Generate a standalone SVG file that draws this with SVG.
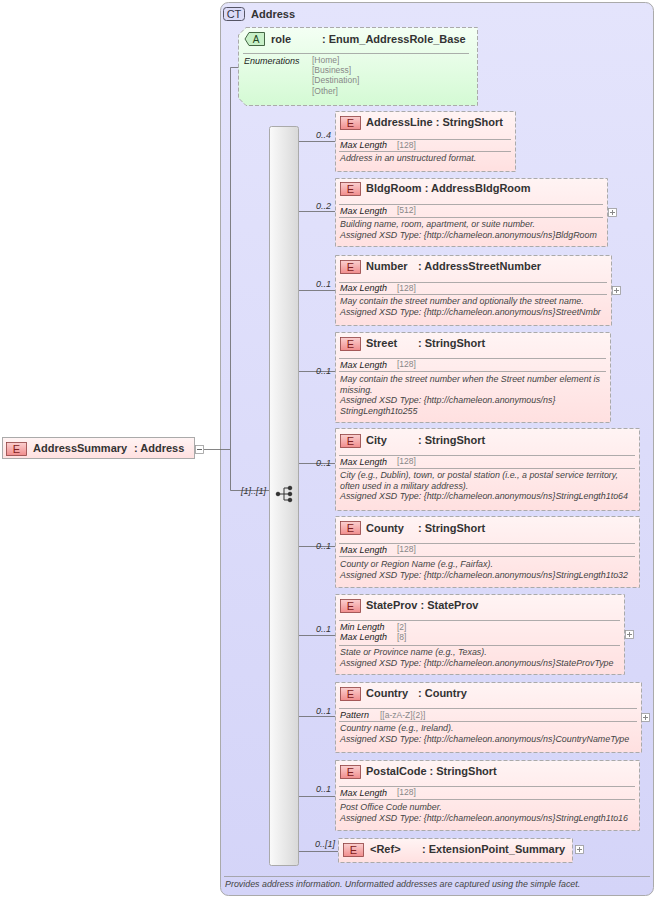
<svg xmlns="http://www.w3.org/2000/svg" width="658" height="899" viewBox="0 0 658 899">
<defs>
<linearGradient id="eg" x1="0" y1="0" x2="0" y2="1"><stop offset="0" stop-color="#fff4f4"/><stop offset="1" stop-color="#ffe0e0"/></linearGradient>
<linearGradient id="eb" x1="0" y1="0" x2="0" y2="1"><stop offset="0" stop-color="#fbd0d0"/><stop offset="1" stop-color="#f08c8c"/></linearGradient>
<linearGradient id="ag" x1="0" y1="0" x2="0" y2="1"><stop offset="0" stop-color="#f4fff4"/><stop offset="1" stop-color="#d4fad4"/></linearGradient>
<linearGradient id="sg" x1="0" y1="0" x2="1" y2="0"><stop offset="0" stop-color="#fafafa"/><stop offset="1" stop-color="#d8d8d8"/></linearGradient>
<linearGradient id="cg" x1="0" y1="0" x2="0" y2="1"><stop offset="0" stop-color="#e4e4fc"/><stop offset="1" stop-color="#d4d4f8"/></linearGradient>
</defs>
<style>
text{font-family:"Liberation Sans",Arial,sans-serif}
.box{fill:url(#eg);stroke:#aaa;stroke-dasharray:4,2}
.badge{fill:url(#eb);stroke:#904040;stroke-width:0.8}
.bt{font-size:11px;fill:#802020;text-anchor:middle}
.t{font-size:11px;font-weight:bold;fill:#333}
.sep{stroke:#999;stroke-width:0.8}
.k{font-size:9px;font-style:italic;fill:#222}
.v{font-size:8.5px;fill:#888}
.d{font-size:8.9px;font-style:italic;fill:#444}
.c{stroke:#666;fill:none;stroke-width:0.8}
.m{font-size:9px;font-style:italic;fill:#333;text-anchor:end}
.pl{fill:#fff;stroke:#999;stroke-width:0.8}
</style>
<g id="ct">
<rect x="220.5" y="2.5" width="433" height="893" rx="8" fill="url(#cg)" stroke="#aaa"/>
<rect x="223.5" y="7.5" width="21" height="13" rx="3" fill="#dcdcf8" stroke="#556"/>
<text x="234" y="18" font-size="11" text-anchor="middle" fill="#334">CT</text>
<text x="251" y="18" class="t">Address</text>
<line x1="224" y1="876.5" x2="650" y2="876.5" class="sep"/>
<text x="225" y="887" class="d">Provides address information. Unformatted addresses are captured using the simple facet.</text>
</g>
<g id="connectors">
<path class="c" d="M204 449.5H230.5V67.5H240M230.5 449.5V490.5H269"/>
<text x="266" y="494" class="m">[1]..[1]</text>
<path class="c" d="M298 141.5H335M298 211.5H335M298 290.5H335M298 371.5H335M298 463.5H335M298 546.5H335M298 635.5H335M298 716.5H335M298 796.5H335M298 851.5H338"/>
<text x="331" y="138" class="m">0..4</text>
<text x="331" y="209" class="m">0..2</text>
<text x="331" y="287" class="m">0..1</text>
<text x="331" y="374" class="m">0..1</text>
<text x="331" y="466" class="m">0..1</text>
<text x="331" y="549" class="m">0..1</text>
<text x="331" y="632" class="m">0..1</text>
<text x="331" y="714" class="m">0..1</text>
<text x="331" y="792" class="m">0..1</text>
<text x="335" y="847" class="m">0..[1]</text>
</g>
<g id="seq">
<rect x="269.5" y="126.5" width="29" height="739" rx="2" fill="url(#sg)" stroke="#aaa"/>
<g fill="#333" stroke="#333"><circle cx="278" cy="494" r="1.8"/><path d="M278 494H284M284 488V500M284 488H290M284 494H290M284 500H290" fill="none"/><circle cx="290" cy="488" r="1.8"/><circle cx="290" cy="494" r="1.8"/><circle cx="290" cy="500" r="1.8"/></g>
</g>
<g id="role">
<path d="M246 27.5H477.5V105.5H246L238.5 98V35Z" fill="url(#ag)" stroke="#aaa" stroke-dasharray="4,2"/>
<path d="M249 32.5H264.5V45.5H249L245 39Z" fill="#c8f0c8" stroke="#446644"/>
<text x="256" y="43" font-size="10" text-anchor="middle" fill="#224422">A</text>
<text x="271" y="43" class="t">role</text><text x="322" y="43" class="t">: Enum_AddressRole_Base</text>
<line x1="243" y1="53.5" x2="469" y2="53.5" class="sep"/>
<text x="244" y="64" class="k">Enumerations</text>
<text x="312" y="63" class="v">[Home]</text><text x="312" y="73" class="v">[Business]</text><text x="312" y="83" class="v">[Destination]</text><text x="312" y="94" class="v">[Other]</text>
</g>
<g id="AddressSummary">
<rect x="2.5" y="437.5" width="192" height="21" fill="url(#eg)" stroke="#aaa"/>
<rect x="6.5" y="442.5" width="20" height="13" class="badge"/><text x="16.5" y="453" class="bt">E</text>
<text x="33" y="452" class="t">AddressSummary</text><text x="134" y="452" class="t">: Address</text>
<rect x="195.5" y="445.5" width="8" height="8" class="pl"/><path d="M197 449.5h5" stroke="#666"/>
</g>
<g id="AddressLine">
<rect x="335.5" y="111.5" width="180" height="60" class="box"/>
<rect x="340.5" y="116.5" width="20" height="13" class="badge"/><text x="350.5" y="127" class="bt">E</text>
<text x="366" y="126" class="t">AddressLine : StringShort</text>
<line x1="339" y1="139.5" x2="511" y2="139.5" class="sep"/>
<text x="340" y="148" class="k">Max Length</text><text x="397" y="148" class="v">[128]</text>
<line x1="339" y1="151.5" x2="511" y2="151.5" class="sep"/>
<text x="340" y="161" class="d">Address in an unstructured format.</text>
</g>
<g id="BldgRoom">
<rect x="335.5" y="178.5" width="272" height="68" class="box"/>
<rect x="340.5" y="182.5" width="20" height="13" class="badge"/><text x="350.5" y="193" class="bt">E</text>
<text x="366" y="192" class="t">BldgRoom : AddressBldgRoom</text>
<line x1="339" y1="204.5" x2="603" y2="204.5" class="sep"/>
<text x="340" y="214" class="k">Max Length</text><text x="397" y="213" class="v">[512]</text>
<line x1="339" y1="217.5" x2="603" y2="217.5" class="sep"/>
<text x="340" y="227" class="d">Building name, room, apartment, or suite number.</text>
<text x="340" y="238" class="d">Assigned XSD Type: {http://chameleon.anonymous/ns}BldgRoom</text>
<rect x="608.5" y="208.5" width="8" height="8" class="pl"/><path d="M610 212.5h5M612.5 210v5" stroke="#888"/>
</g>
<g id="Number">
<rect x="335.5" y="255.5" width="276" height="70" class="box"/>
<rect x="340.5" y="260.5" width="20" height="13" class="badge"/><text x="350.5" y="271" class="bt">E</text>
<text x="366" y="270" class="t">Number</text><text x="418" y="270" class="t">: AddressStreetNumber</text>
<line x1="339" y1="282.5" x2="607" y2="282.5" class="sep"/>
<text x="340" y="291" class="k">Max Length</text><text x="397" y="291" class="v">[128]</text>
<line x1="339" y1="294.5" x2="607" y2="294.5" class="sep"/>
<text x="340" y="304" class="d">May contain the street number and optionally the street name.</text>
<text x="340" y="315" class="d">Assigned XSD Type: {http://chameleon.anonymous/ns}StreetNmbr</text>
<rect x="612.5" y="286.5" width="8" height="8" class="pl"/><path d="M614 290.5h5M616.5 288v5" stroke="#888"/>
</g>
<g id="Street">
<rect x="335.5" y="332.5" width="275" height="90" class="box"/>
<rect x="340.5" y="337.5" width="20" height="13" class="badge"/><text x="350.5" y="348" class="bt">E</text>
<text x="366" y="347" class="t">Street</text><text x="418" y="347" class="t">: StringShort</text>
<line x1="339" y1="358.5" x2="606" y2="358.5" class="sep"/>
<text x="340" y="368" class="k">Max Length</text><text x="397" y="367" class="v">[128]</text>
<line x1="339" y1="371.5" x2="606" y2="371.5" class="sep"/>
<text x="340" y="382" class="d">May contain the street number when the Street number element is</text>
<text x="340" y="393" class="d">missing.</text>
<text x="340" y="403" class="d">Assigned XSD Type: {http://chameleon.anonymous/ns}</text>
<text x="340" y="414" class="d">StringLength1to255</text>
</g>
<g id="City">
<rect x="335.5" y="428.5" width="304" height="82" class="box"/>
<rect x="340.5" y="434.5" width="20" height="13" class="badge"/><text x="350.5" y="445" class="bt">E</text>
<text x="366" y="444" class="t">City</text><text x="418" y="444" class="t">: StringShort</text>
<line x1="339" y1="455.5" x2="635" y2="455.5" class="sep"/>
<text x="340" y="465" class="k">Max Length</text><text x="397" y="464" class="v">[128]</text>
<line x1="339" y1="468.5" x2="635" y2="468.5" class="sep"/>
<text x="340" y="478" class="d">City (e.g., Dublin), town, or postal station (i.e., a postal service territory,</text>
<text x="340" y="489" class="d">often used in a military address).</text>
<text x="340" y="499" class="d">Assigned XSD Type: {http://chameleon.anonymous/ns}StringLength1to64</text>
</g>
<g id="County">
<rect x="335.5" y="516.5" width="304" height="71" class="box"/>
<rect x="340.5" y="521.5" width="20" height="13" class="badge"/><text x="350.5" y="532" class="bt">E</text>
<text x="366" y="532" class="t">County</text><text x="418" y="532" class="t">: StringShort</text>
<line x1="339" y1="543.5" x2="635" y2="543.5" class="sep"/>
<text x="340" y="553" class="k">Max Length</text><text x="397" y="552" class="v">[128]</text>
<line x1="339" y1="556.5" x2="635" y2="556.5" class="sep"/>
<text x="340" y="567" class="d">County or Region Name (e.g., Fairfax).</text>
<text x="340" y="578" class="d">Assigned XSD Type: {http://chameleon.anonymous/ns}StringLength1to32</text>
</g>
<g id="StateProv">
<rect x="335.5" y="594.5" width="289" height="80" class="box"/>
<rect x="340.5" y="599.5" width="20" height="13" class="badge"/><text x="350.5" y="610" class="bt">E</text>
<text x="366" y="609" class="t">StateProv : StateProv</text>
<line x1="339" y1="620.5" x2="620" y2="620.5" class="sep"/>
<text x="340" y="630" class="k">Min Length</text><text x="397" y="630" class="v">[2]</text>
<text x="340" y="640" class="k">Max Length</text><text x="397" y="640" class="v">[8]</text>
<line x1="339" y1="645.5" x2="620" y2="645.5" class="sep"/>
<text x="340" y="655" class="d">State or Province name (e.g., Texas).</text>
<text x="340" y="666" class="d">Assigned XSD Type: {http://chameleon.anonymous/ns}StateProvType</text>
<rect x="625.5" y="630.5" width="8" height="8" class="pl"/><path d="M627 634.5h5M629.5 632v5" stroke="#888"/>
</g>
<g id="Country">
<rect x="335.5" y="682.5" width="306" height="70" class="box"/>
<rect x="340.5" y="687.5" width="20" height="13" class="badge"/><text x="350.5" y="698" class="bt">E</text>
<text x="366" y="697" class="t">Country</text><text x="418" y="697" class="t">: Country</text>
<line x1="339" y1="708.5" x2="637" y2="708.5" class="sep"/>
<text x="340" y="718" class="k">Pattern</text><text x="380" y="718" class="v">[[a-zA-Z]{2}]</text>
<line x1="339" y1="721.5" x2="637" y2="721.5" class="sep"/>
<text x="340" y="731" class="d">Country name (e.g., Ireland).</text>
<text x="340" y="742" class="d">Assigned XSD Type: {http://chameleon.anonymous/ns}CountryNameType</text>
<rect x="641.5" y="713.5" width="8" height="8" class="pl"/><path d="M643 717.5h5M645.5 715v5" stroke="#888"/>
</g>
<g id="PostalCode">
<rect x="335.5" y="760.5" width="304" height="70" class="box"/>
<rect x="340.5" y="765.5" width="20" height="13" class="badge"/><text x="350.5" y="776" class="bt">E</text>
<text x="366" y="775" class="t">PostalCode : StringShort</text>
<line x1="339" y1="786.5" x2="635" y2="786.5" class="sep"/>
<text x="340" y="796" class="k">Max Length</text><text x="397" y="795" class="v">[128]</text>
<line x1="339" y1="799.5" x2="635" y2="799.5" class="sep"/>
<text x="340" y="810" class="d">Post Office Code number.</text>
<text x="340" y="821" class="d">Assigned XSD Type: {http://chameleon.anonymous/ns}StringLength1to16</text>
</g>
<g id="Ref">
<rect x="338.5" y="838.5" width="234" height="24" class="box"/>
<rect x="343.5" y="843.5" width="20" height="13" class="badge"/><text x="353.5" y="854" class="bt">E</text>
<text x="370" y="853" class="t">&lt;Ref&gt;</text><text x="422" y="853" class="t">: ExtensionPoint_Summary</text>
<rect x="575.5" y="845.5" width="8" height="8" class="pl"/><path d="M577 849.5h5M579.5 847v5" stroke="#888"/>
</g>
</svg>
